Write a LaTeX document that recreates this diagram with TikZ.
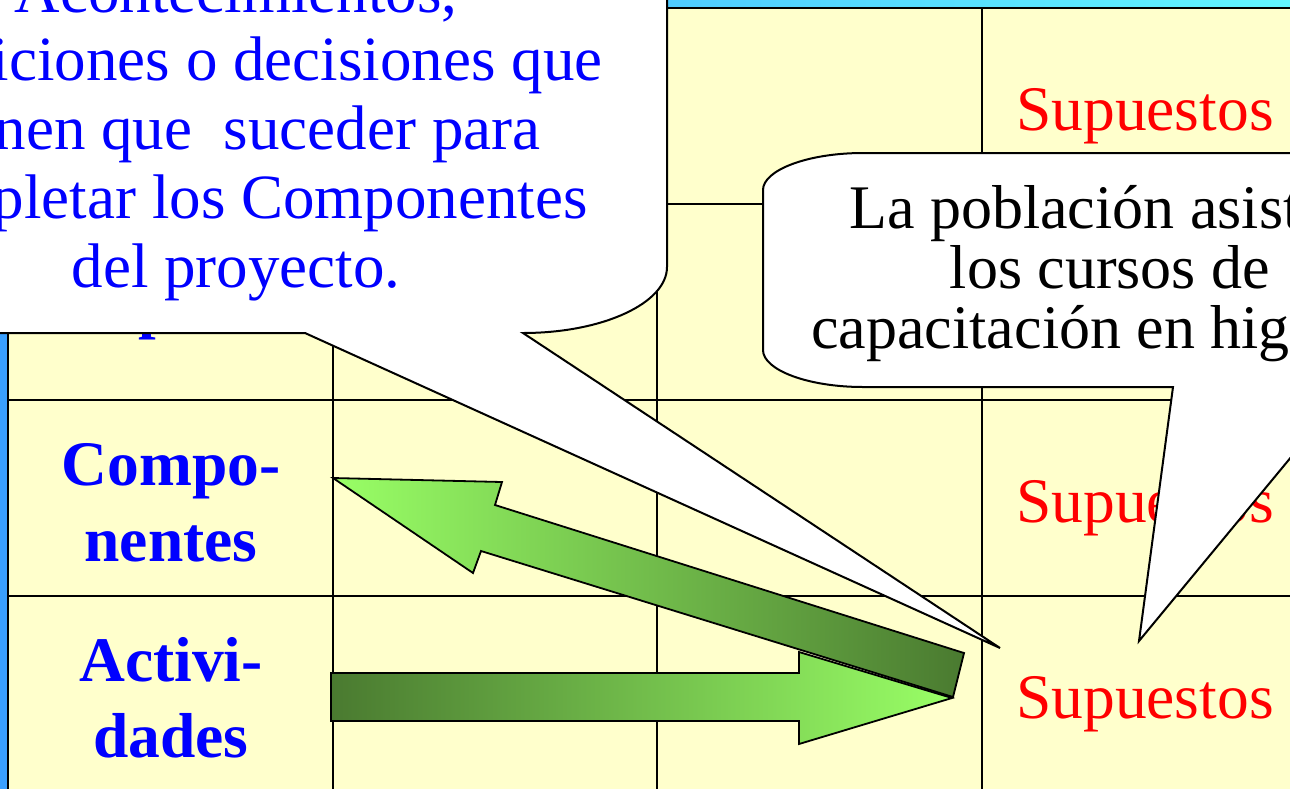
\documentclass[tikz,border=0pt]{standalone}
\usepackage{fontspec}
\setmainfont{Liberation Serif}
\definecolor{celda}{RGB}{255,255,204}
\definecolor{barra}{RGB}{58,160,255}
\definecolor{cielo}{RGB}{98,246,255}
\definecolor{verdeosc}{RGB}{74,122,48}
\definecolor{verdecla}{RGB}{153,255,102}

\begin{document}
\begin{tikzpicture}[x=1pt,y=-1pt,
      rejilla/.style={line width=2.4pt},
      etiqueta/.style={text=blue,font=\fontsize{63.5}{76}\selectfont\bfseries,align=center,anchor=base,inner sep=0pt},
      supuesto/.style={text=red,font=\fontsize{63.5}{68}\selectfont,anchor=base,inner sep=0pt},
      flecha/.style={draw=black,line width=1.8pt,line join=miter},
      globo/.style={fill=white,draw=black,line width=2pt},
      globotexto/.style={align=center,anchor=base,inner sep=0pt}]
              \useasboundingbox (0,0) rectangle (1290,788);
              \fill[celda] (8,8) rectangle (1330,800);
              \fill[barra] (0,0) rectangle (8,800);
              \shade[left color=barra,right color=cielo] (8,0) rectangle (1290,8);
              \foreach \x in {8,333,657,982}
                \draw[rejilla] (\x,8) -- (\x,800);
              \foreach \y in {8,204,400,596}
                \draw[rejilla] (8,\y) -- (1330,\y);
              \node[etiqueta] (proposito) at (171,326) {Propósito};
              \node[etiqueta] (componentes) at (171,561) {Compo-\\nentes};
              \node[etiqueta] (actividades) at (171,757) {Activi-\\dades};
              \node[supuesto] (supuestosfin) at (1145,130) {Supuestos};
              \node[supuesto] (supuestoscomp) at (1145,522) {Supuestos};
              \node[supuesto] (supuestosact) at (1145,718) {Supuestos};
              \shadedraw[flecha,left color=verdeosc,right color=verdecla]
                (331,673) -- (799,673) -- (799,652) -- (952,698) -- (799,744) -- (799,721) -- (331,721) -- cycle;
              \shadedraw[flecha,left color=verdecla,right color=verdeosc]
                (333,478) -- (502,482) -- (495,505) -- (964,653) -- (953,697) -- (481,551) -- (473,573) -- cycle;
              \draw[globo] (-20,-20) -- (667,-20) -- (667,267) .. controls (667,303) and (603,333) .. (523,333)
                -- (1000,648) -- (305,333) -- (-20,333) -- cycle;
              \node[globotexto,text=blue,font=\fontsize{63}{68.7}\selectfont] (acontecimientos) at (236,287)
                {Acontecimientos,\\condiciones o decisiones que\\tienen que~ suceder para\\completar los Componentes\\del proyecto.};
              \draw[globo] (1400,153) -- (863,153) .. controls (808,153) and (763,170) .. (763,190) -- (763,350)
                .. controls (763,370) and (808,387) .. (863,387) -- (1173,387) -- (1139,641) -- (1349,387) -- (1400,387) -- cycle;
              \node[globotexto,font=\fontsize{62}{60}\selectfont] (poblacion) at (1110,348)
                {La población asiste a\\los cursos de\\capacitación en higiene.};
            \end{tikzpicture}
\end{document}
